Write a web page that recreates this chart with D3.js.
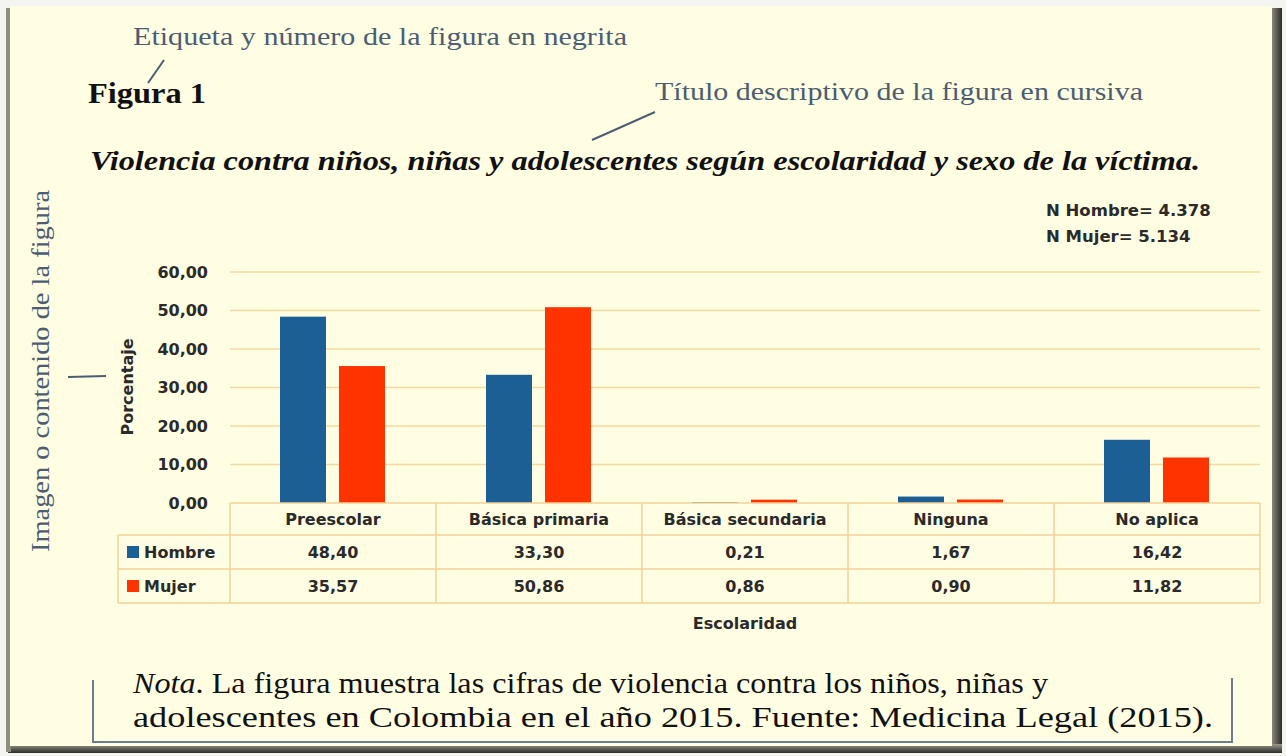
<!DOCTYPE html>
<html>
<head>
<meta charset="utf-8">
<script src="https://cdn.jsdelivr.net/npm/d3@7"></script>
<style>
  body { margin: 0; background: #f4f4f0; }
  text { font-family: "DejaVu Sans", sans-serif; }
  .serif { font-family: "Liberation Serif", "DejaVu Serif", serif; }
</style>
</head>
<body>
<script>

const categories = ["Preescolar", "Básica primaria", "Básica secundaria", "Ninguna", "No aplica"];
const series = ["Hombre", "Mujer"];
const hombre = [48.40, 33.30, 0.21, 1.67, 16.42];
const mujer = [35.57, 50.86, 0.86, 0.90, 11.82];
const yTicks = [0, 10, 20, 30, 40, 50, 60];
const colors = ["#1c5f95", "#ff3300"];

const values = [hombre, mujer];
const fmt = v => v.toFixed(2).replace(".", ",");
const ink = "#2a2a2a";
const fs = 16;

const svg = d3.select('body')
    .append('svg')
    .attr("width", 1286)
    .attr("height", 756);

// panel with shadowed frame
const defs = svg.append("defs");
const gr = defs.append("linearGradient").attr("id", "rshade").attr("x1", "0").attr("x2", "1");
gr.append("stop").attr("offset", "0").attr("stop-color", "#9a9a8a");
gr.append("stop").attr("offset", "1").attr("stop-color", "#2b2b2b");
const gb = defs.append("linearGradient").attr("id", "bshade").attr("x1", "0").attr("x2", "0").attr("y1", "0").attr("y2", "1");
gb.append("stop").attr("offset", "0").attr("stop-color", "#9a9a8a");
gb.append("stop").attr("offset", "1").attr("stop-color", "#2b2b2b");

svg.append("rect").attr("x", 1270).attr("y", 8).attr("width", 12).attr("height", 744).attr("fill", "url(#rshade)");
svg.append("rect").attr("x", 8).attr("y", 744).attr("width", 1274).attr("height", 9).attr("fill", "url(#bshade)");
svg.append("rect").attr("x", 6).attr("y", 8).attr("width", 5).attr("height", 744).attr("fill", "#8d8d80");
svg.append("rect").attr("x", 10).attr("y", 6).attr("width", 1262).attr("height", 740).attr("fill", "#fffde2");

const g = svg.append('g');

const x = d3.scaleBand().domain(categories).range([230, 1260]);
const xs = d3.scaleBand().domain(series).range([50, 155]).paddingInner(0.22);
const y = d3.scaleLinear().domain([0, 60]).range([503, 272]);

// gridlines
g.selectAll(".grid").data(yTicks.slice(1)).enter().append("line")
    .attr("x1", 230).attr("x2", 1260)
    .attr("y1", d => y(d)).attr("y2", d => y(d))
    .attr("stroke", "#f6d9a0").attr("stroke-width", 1.5);

// y axis
const yAxis = g.append("g").attr("transform", "translate(211,0)")
    .call(d3.axisLeft(y).tickValues(yTicks).tickFormat(fmt).tickSize(0));
yAxis.select(".domain").remove();
yAxis.selectAll("text")
    .attr("font-family", "DejaVu Sans, sans-serif")
    .attr("font-size", fs).attr("font-weight", 700).attr("fill", ink);

// bars
series.forEach((s, si) => {
    g.selectAll(".bar_" + s).data(categories).enter().append("rect")
        .attr("class", "bar_" + s)
        .attr("x", d => x(d) + xs(s))
        .attr("width", xs.bandwidth())
        .attr("y", (d, i) => y(values[si][i]))
        .attr("height", (d, i) => y(0) - y(values[si][i]))
        .attr("fill", colors[si]);
});

// data table
const rowY = [503, 535, 569, 603];
const tableLine = "#f5cf95";
g.append("line").attr("x1", 230).attr("x2", 1260).attr("y1", rowY[0]).attr("y2", rowY[0]).attr("stroke", tableLine).attr("stroke-width", 1.5);
rowY.slice(1).forEach(ry => {
    g.append("line").attr("x1", 118).attr("x2", 1260).attr("y1", ry).attr("y2", ry).attr("stroke", tableLine).attr("stroke-width", 1.5);
});
categories.concat([null]).forEach((c, i) => {
    const xx = c ? x(c) : x.range()[1];
    g.append("line").attr("x1", xx).attr("x2", xx).attr("y1", rowY[0]).attr("y2", rowY[3]).attr("stroke", tableLine).attr("stroke-width", 1.5);
});
g.append("line").attr("x1", 118).attr("x2", 118).attr("y1", rowY[1]).attr("y2", rowY[3]).attr("stroke", tableLine).attr("stroke-width", 1.5);

g.selectAll(".cat_label").data(categories).enter().append("text")
    .attr("x", d => x(d) + x.bandwidth() / 2)
    .attr("y", (rowY[0] + rowY[1]) / 2 + 6)
    .attr("text-anchor", "middle")
    .attr("font-size", fs).attr("font-weight", 700).attr("fill", ink)
    .text(d => d);

series.forEach((s, si) => {
    const cy = (rowY[si + 1] + rowY[si + 2]) / 2;
    g.append("rect").attr("x", 127).attr("y", cy - 6).attr("width", 12).attr("height", 12).attr("fill", colors[si]);
    g.append("text").attr("x", 144).attr("y", cy + 6)
        .attr("font-size", fs).attr("font-weight", 700).attr("fill", ink).text(s);
    g.selectAll(".val_" + s).data(categories).enter().append("text")
        .attr("x", d => x(d) + x.bandwidth() / 2)
        .attr("y", cy + 6)
        .attr("text-anchor", "middle")
        .attr("font-size", fs).attr("font-weight", 700).attr("fill", ink)
        .text((d, i) => fmt(values[si][i]));
});

// axis titles
g.append("text").attr("x", 745).attr("y", 629).attr("text-anchor", "middle")
    .attr("font-size", fs).attr("font-weight", 700).attr("fill", ink).text("Escolaridad");
g.append("text").attr("transform", "translate(133,387) rotate(-90)").attr("text-anchor", "middle")
    .attr("font-size", fs).attr("font-weight", 700).attr("fill", ink).text("Porcentaje");

g.append("text").attr("x", 1046).attr("y", 216)
    .attr("font-size", 16.5).attr("font-weight", 700).attr("fill", ink).text("N Hombre= 4.378");
g.append("text").attr("x", 1046).attr("y", 242)
    .attr("font-size", 16.5).attr("font-weight", 700).attr("fill", ink).text("N Mujer= 5.134");

// document texts
const note = "#4b5d73";
const stretch = "spacingAndGlyphs";
svg.append("text").attr("class", "serif").attr("x", 133).attr("y", 45)
    .attr("font-size", 25).attr("fill", note).attr("textLength", 494).attr("lengthAdjust", stretch)
    .text("Etiqueta y número de la figura en negrita");
svg.append("line").attr("x1", 164).attr("y1", 60).attr("x2", 148).attr("y2", 83).attr("stroke", note).attr("stroke-width", 2);

svg.append("text").attr("class", "serif").attr("x", 88).attr("y", 103)
    .attr("font-size", 29).attr("font-weight", 700).attr("fill", "#111").attr("textLength", 118).attr("lengthAdjust", stretch)
    .text("Figura 1");

svg.append("text").attr("class", "serif").attr("x", 655).attr("y", 100)
    .attr("font-size", 25).attr("fill", note).attr("textLength", 488).attr("lengthAdjust", stretch)
    .text("Título descriptivo de la figura en cursiva");
svg.append("line").attr("x1", 655).attr("y1", 112).attr("x2", 592).attr("y2", 140).attr("stroke", note).attr("stroke-width", 2);

svg.append("text").attr("class", "serif").attr("x", 90).attr("y", 170)
    .attr("font-size", 28).attr("font-weight", 700).attr("font-style", "italic").attr("fill", "#111")
    .attr("textLength", 1110).attr("lengthAdjust", stretch)
    .text("Violencia contra niños, niñas y adolescentes según escolaridad y sexo de la víctima.");

svg.append("text").attr("class", "serif").attr("transform", "translate(49,552) rotate(-90)")
    .attr("font-size", 26).attr("fill", note).attr("textLength", 362).attr("lengthAdjust", stretch)
    .text("Imagen o contenido de la figura");
svg.append("line").attr("x1", 68).attr("y1", 377).attr("x2", 106).attr("y2", 376).attr("stroke", note).attr("stroke-width", 2);

// nota box
svg.append("path").attr("d", "M93,680 V742 H1232 V678").attr("fill", "none").attr("stroke", "#6c7d92").attr("stroke-width", 2);
const nota1 = svg.append("text").attr("class", "serif").attr("x", 133).attr("y", 693)
    .attr("font-size", 29).attr("fill", "#111").attr("textLength", 915).attr("lengthAdjust", stretch);
nota1.append("tspan").attr("font-style", "italic").text("Nota");
nota1.append("tspan").text(". La figura muestra las cifras de violencia contra los niños, niñas y");
svg.append("text").attr("class", "serif").attr("x", 133).attr("y", 727)
    .attr("font-size", 29).attr("fill", "#111").attr("textLength", 1080).attr("lengthAdjust", stretch)
    .text("adolescentes en Colombia en el año 2015. Fuente: Medicina Legal (2015).");

</script>
</body>
</html>
